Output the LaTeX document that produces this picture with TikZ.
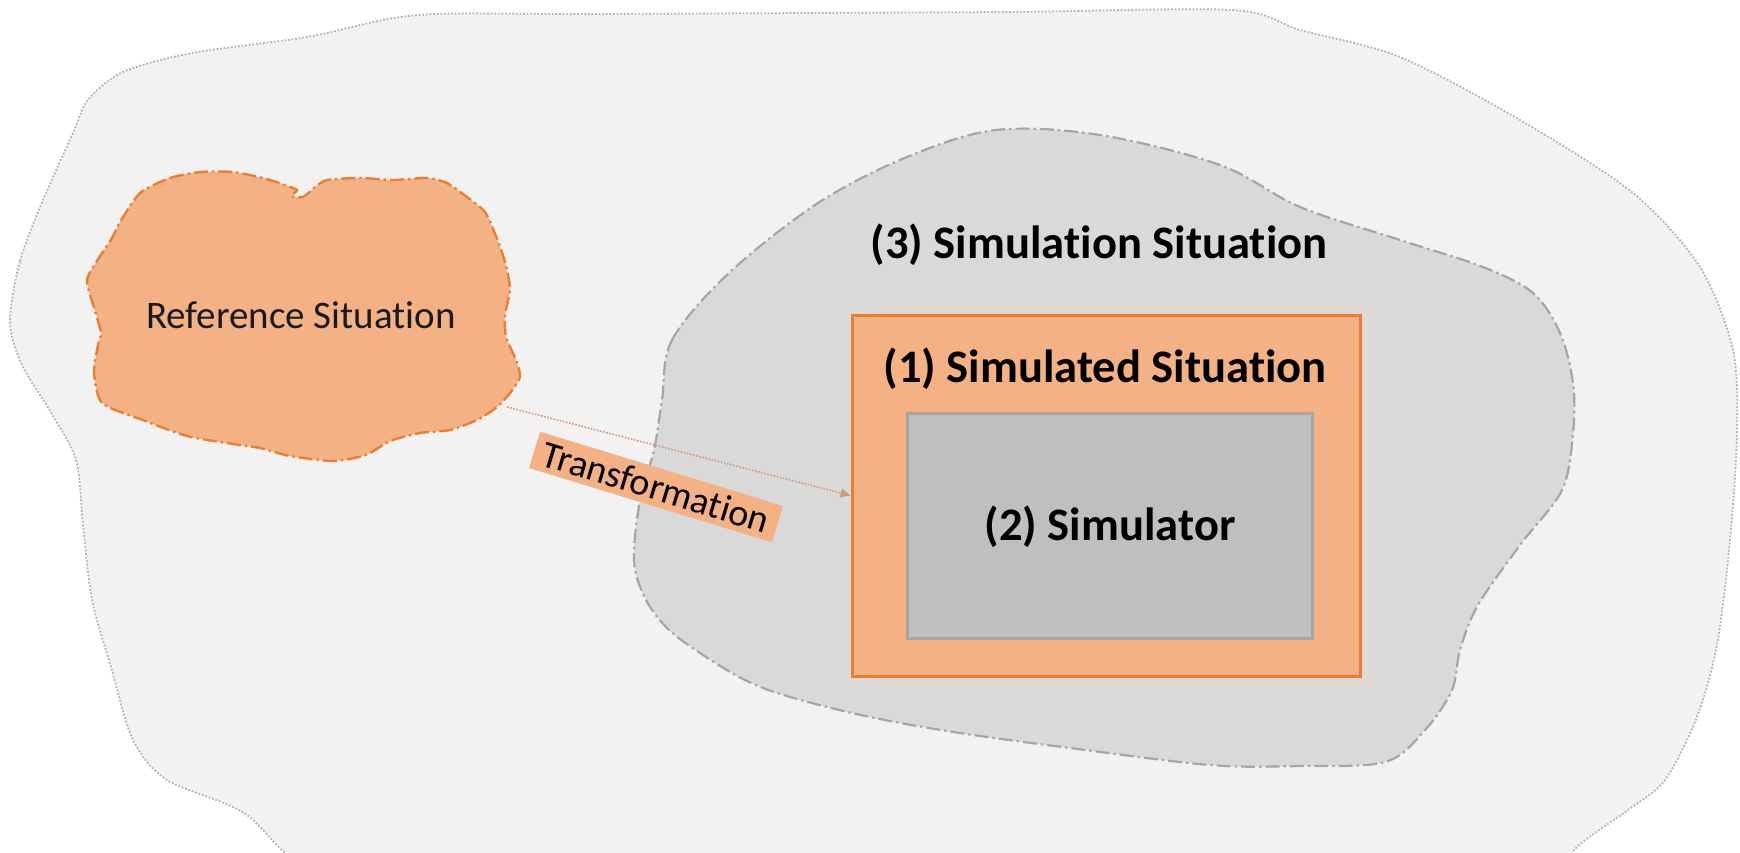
\documentclass[tikz,border=0pt]{standalone}
\usepackage{fontspec}
\setmainfont{Carlito}[Ligatures=NoCommon]
\usetikzlibrary{arrows.meta}
\definecolor{outerfill}{HTML}{F2F2F2}
\definecolor{outerline}{HTML}{B4B4B4}
\definecolor{grayfill}{HTML}{D9D9D9}
\definecolor{grayline}{HTML}{A6A6A6}
\definecolor{orfill}{HTML}{F4B183}
\definecolor{orline}{HTML}{ED7D31}
\definecolor{simfill}{HTML}{BFBFBF}
\definecolor{arrcol}{HTML}{D29C7C}
\definecolor{glow}{HTML}{D6DCE2}
\definecolor{glowfill}{HTML}{DEDAD7}
\tikzset{
  outerblob/.style={fill=outerfill, draw=outerline, line width=0.9pt, dash pattern=on 0.9pt off 0.9pt},
  simblob/.style={fill=grayfill, draw=grayline, line width=1.1pt, dash pattern=on 7pt off 2pt on 1.2pt off 2pt},
  refblob/.style={fill=orfill, draw=orline, line width=1.2pt, dash pattern=on 7pt off 2pt on 1.2pt off 2pt},
  orbox/.style={draw=orline, fill=orfill, line width=1.5pt, inner sep=0pt},
  simbox/.style={draw=grayline, fill=simfill, line width=1.5pt, inner sep=0pt},
  boldlabel/.style={font=\fontsize{23.3}{27}\selectfont\bfseries, text=black, inner sep=0pt},
  plainlabel/.style={font=\fontsize{19.5}{23}\selectfont, text=black!90, inner sep=0pt},
  translabel/.style={fill=orfill, font=\fontsize{19}{22}\selectfont, text=black, inner sep=0pt, minimum width=127pt, minimum height=19pt},
  transarrow/.style={draw=arrcol, line width=0.8pt, dash pattern=on 0.8pt off 0.8pt, -{Triangle[length=5pt,width=4.5pt]}}
}
\begin{document}
\begin{tikzpicture}[x=0.5pt,y=-0.5pt]
\useasboundingbox (0,0) rectangle (1740,852);
% outer blob
\path[outerblob] plot[smooth cycle, tension=0.5] coordinates {
 (10,322) (20,261) (43,200) (73,133) (88,100) (123,72) (192,53) (307,37) (418,15)
 (600,14) (1000,12) (1232,10) (1300,30) (1400,57) (1520,120) (1633,193) (1700,267)
 (1733,350) (1737,433) (1730,540) (1717,645) (1697,717) (1665,780) (1628,810) (1577,847)
 (1530,900) (1300,940) (600,940) (330,880) (244,813) (167,780) (133,740) (111,667) (92,600)
 (83,525) (76,460) (50,411) (22,365)};
% simulation situation blob
\path[simblob] plot[smooth cycle, tension=0.55] coordinates {
 (662,400) (672,340) (729,273) (818,203) (907,157) (996,130) (1100,135) (1220,165)
 (1300,207) (1400,240) (1483,267) (1533,293) (1560,333) (1573,383) (1573,433)
 (1562,490) (1520,545) (1478,605) (1460,650) (1452,690) (1425,730) (1385,762)
 (1300,766) (1210,765) (1070,748) (960,733) (870,717) (790,697) (745,680) (700,653)
 (667,628) (645,598) (634,560) (640,500) (654,450)};
% reference blob
\path[refblob] plot[smooth cycle, tension=0.4] coordinates {
 (140,193) (170,178) (200,172) (233,172) (263,178) (282,184) (297,190) (291,196)
 (303,197) (314,188) (327,180) (360,178) (393,180) (427,178) (447,183) (467,197)
 (485,212) (496,236) (505,262) (510,289) (505,315) (506,337) (516,360) (520,377)
 (510,393) (497,407) (477,420) (450,430) (420,433) (390,441) (366,455) (333,461)
 (290,456) (260,448) (233,444) (187,436) (140,419) (102,403) (94,373) (98,345)
 (101,333) (96,314) (87,281) (97,261) (112,238) (120,222)};
\node[plainlabel, anchor=base] (reflbl) at (301,328) {Reference Situation};
\coordinate (refout) at (507,407);
% faint glow behind the simulated situation box
\draw[glow, line width=1pt, fill=glowfill] (874,301) rectangle (1376,699);
% simulated situation box
\node[orbox, minimum width=254pt, minimum height=180.5pt] (simd) at (1106,495.5) {};
\node[simbox, minimum width=202.5pt, minimum height=112.5pt] (simr) at (1109.5,525.5) {};
\node[boldlabel, anchor=base] (lbl3) at (1099,258) {(3) Simulation Situation};
\node[boldlabel, anchor=base] (lbl1) at (1105,382) {(1) Simulated Situation};
\node[boldlabel, anchor=base] (lbl2) at (1110,540) {(2) Simulator};
% transformation
\draw[transarrow] (refout) -- (simd.west);
\node[translabel, rotate=-17] (trans) at (656,487) {Transformation};
\end{tikzpicture}
\end{document}
